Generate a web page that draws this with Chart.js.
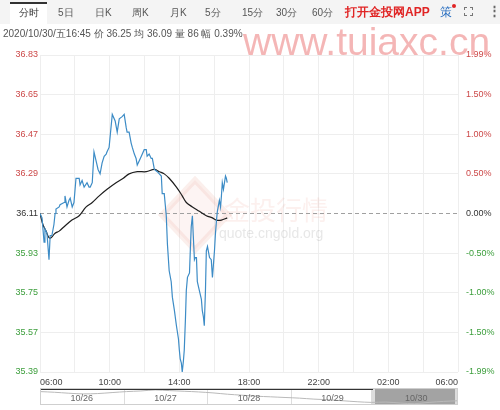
<!DOCTYPE html>
<html>
<head>
<meta charset="utf-8">
<script src="https://cdn.jsdelivr.net/npm/chart.js@4.4.0/dist/chart.umd.min.js"></script>
<style>
  body { margin:0; width:500px; height:410px; overflow:hidden; background:#fff; font-family:"Liberation Sans", Arial, sans-serif; }
  .abs { position:absolute; white-space:nowrap; }
  #tabs { position:absolute; left:0; top:0; width:500px; height:24px; background:#f4f4f4; z-index:2; }
  #tabs .t { position:absolute; top:6px; font-size:10px; color:#555; }
  #sel { position:absolute; left:10px; top:2px; width:37px; height:22px; background:#fff; border-top:2px solid #333; box-sizing:border-box; }
  #info { left:3px; top:27px; font-size:10px; color:#555; z-index:2; }
  #wm { left:243px; top:20px; font-size:39px; color:#f3aaaa; opacity:0.85; z-index:5; }
  #main { position:absolute; left:0; top:0; z-index:1; }
  #nav { position:absolute; left:40px; top:388px; z-index:1; }
</style>
</head>
<body>
<div id="tabs">
  <div id="sel"></div>
  <span class="t" style="left:19px;color:#333">分时</span>
  <span class="t" style="left:58px">5日</span>
  <span class="t" style="left:95px">日K</span>
  <span class="t" style="left:132px">周K</span>
  <span class="t" style="left:170px">月K</span>
  <span class="t" style="left:205px">5分</span>
  <span class="t" style="left:242px">15分</span>
  <span class="t" style="left:276px">30分</span>
  <span class="t" style="left:312px">60分</span>
  <span class="t" style="left:345px;top:4px;font-size:12px;font-weight:bold;color:#e02424">打开金投网APP</span>
  <span class="t" style="left:440px;top:4px;font-size:12px;color:#2a6fc0">策</span>
  <span class="abs" style="left:452px;top:4px;width:4px;height:4px;border-radius:2px;background:#e02424"></span>
  <span class="abs" style="left:464px;top:7px;width:9px;height:9px;border:1.5px dashed #777;box-sizing:border-box"></span>
  <span class="t" style="left:488px;top:3px;font-size:13px;color:#666;font-weight:bold">⋮</span>
</div>
<div id="info" class="abs">2020/10/30/五16:45 价 36.25 均 36.09 量 86 幅 0.39%</div>
<div id="wm" class="abs">www.tuiaxc.cn</div>
<canvas id="main" width="500" height="410"></canvas>
<canvas id="nav" width="418" height="17"></canvas>
<script>
// axis labels
var timeLabels = ['06:00', '10:00', '14:00', '18:00', '22:00', '02:00', '06:00'];
var priceTicks = [36.83, 36.65, 36.47, 36.29, 36.11, 35.93, 35.75, 35.57, 35.39];
var pctTicks = ['1.99%', '1.50%', '1.00%', '0.50%', '0.00%', '-0.50%', '-1.00%', '-1.50%', '-1.99%'];
var prevClose = 36.11;

// price line (minutes after 06:00)
var priceMinutes = [0, 7, 14, 17, 24, 31, 35, 41, 48, 52, 55, 66, 69, 83, 86, 93, 100, 104, 111, 117,
  124, 135, 138, 145, 152, 162, 169, 173, 180, 186, 193, 200, 207, 214, 221, 228, 231, 238, 249, 259,
  266, 273, 283, 290, 297, 300, 307, 314, 318, 325, 331, 335, 342, 349, 359, 366, 369, 376, 383, 387,
  394, 404, 418, 421, 428, 435, 439, 445, 452, 456, 463, 470, 477, 480, 483, 487, 490, 494, 497, 501,
  504, 508, 515, 518, 521, 525, 528, 532, 535, 539, 542, 549, 556, 559, 563, 566, 570, 573, 577, 584,
  590, 594, 597, 601, 604, 608, 611, 618, 622, 625, 628, 632, 639, 642, 645];
var priceValues = [36.11, 36.09, 35.98, 36.04, 36.02, 35.90, 36.01, 36.01, 36.06, 36.11, 36.13, 36.14, 36.15, 36.16, 36.19, 36.14, 36.17, 36.18, 36.14, 36.16,
  36.27, 36.27, 36.24, 36.26, 36.23, 36.25, 36.23, 36.23, 36.25, 36.39, 36.35, 36.31, 36.29, 36.34, 36.37, 36.38, 36.39, 36.41, 36.56, 36.53,
  36.48, 36.54, 36.55, 36.56, 36.50, 36.48, 36.48, 36.43, 36.41, 36.38, 36.36, 36.33, 36.35, 36.37, 36.40, 36.40, 36.37, 36.38, 36.36, 36.36,
  36.31, 36.30, 36.28, 36.20, 36.20, 36.10, 35.97, 35.85, 35.80, 35.73, 35.67, 35.60, 35.54, 35.49, 35.45, 35.43, 35.39, 35.44, 35.49, 35.63,
  35.76, 35.82, 35.84, 35.95, 36.05, 36.10, 36.01, 35.90, 35.91, 35.91, 35.80, 35.76, 35.72, 35.67, 35.64, 35.60, 35.76, 35.94, 35.96, 35.91,
  35.90, 35.82, 35.87, 35.94, 36.01, 36.08, 36.12, 36.17, 36.14, 36.19, 36.25, 36.22, 36.28, 36.27, 36.25];

// average price line
var avgMinutes = [0, 10, 21, 31, 38, 52, 66, 83, 110, 135, 159, 180, 204, 231, 262, 287, 307, 335, 366, 394,
  411, 428, 445, 470, 490, 504, 525, 549, 573, 594, 608, 625, 645];
var avgValues = [36.11, 36.06, 36.03, 36.00, 36.00, 36.02, 36.03, 36.05, 36.08, 36.10, 36.14, 36.16, 36.19, 36.22, 36.25, 36.27, 36.29, 36.30, 36.30, 36.31,
  36.30, 36.29, 36.27, 36.23, 36.19, 36.16, 36.14, 36.12, 36.10, 36.09, 36.08, 36.08, 36.09];

// navigator
var navDays = ['10/26', '10/27', '10/28', '10/29', '10/30'];
var navValues = [39.1, 38.9, 38.6, 38.4, 38.5, 38.8, 39.1, 39.3, 39.6, 39.4, 39.2, 39.0,
  38.7, 38.3, 38.0, 37.7, 37.5, 37.3, 37.1, 36.8, 36.6, 36.3, 36.0, 35.8, 35.9, 35.6, 35.4, 35.8, 36.1, 36.3];

var red = '#cc4848', green = '#3c9e3c';

var logoPlugin = {
  id: 'logo',
  beforeDatasetsDraw: function(chart) {
    var c = chart.ctx;
    c.save();
    c.fillStyle = 'rgba(225,120,100,0.08)';
    c.strokeStyle = 'rgba(225,120,100,0.12)';
    c.lineWidth = 6;
    c.beginPath();
    c.moveTo(195, 180); c.lineTo(228, 215); c.lineTo(195, 250); c.lineTo(162, 215); c.closePath();
    c.fill(); c.stroke();
    c.fillStyle = 'rgba(225,120,100,0.11)';
    c.font = '26px "Noto Sans CJK SC"';
    c.fillText('金投行情', 224, 220);
    c.fillStyle = 'rgba(170,170,170,0.28)';
    c.font = '14px "Liberation Sans"';
    c.fillText('quote.cngold.org', 219, 238);
    c.restore();
  }
};

new Chart(document.getElementById('main'), {
  type: 'line',
  data: {
    datasets: [{
      data: priceMinutes.map(function(m, i) { return {x: m, y: priceValues[i]}; }),
      borderColor: '#3d8cc6',
      borderWidth: 1.2,
      pointRadius: 0
    }, {
      data: avgMinutes.map(function(m, i) { return {x: m, y: avgValues[i]}; }),
      borderColor: '#1e1e1e',
      borderWidth: 1.2,
      pointRadius: 0,
      tension: 0.4
    }, {
      data: [{x: 0, y: prevClose}, {x: 1440, y: prevClose}],
      borderColor: '#a0a0a0',
      borderWidth: 1,
      borderDash: [4, 3],
      pointRadius: 0
    }]
  },
  options: {
    responsive: false,
    animation: false,
    events: [],
    layout: {padding: {top: 55, bottom: 22, left: 0, right: 0}},
    plugins: {legend: {display: false}, tooltip: {enabled: false}},
    scales: {
      x: {
        type: 'linear', min: 0, max: 1440,
        afterBuildTicks: function(s) {
          var t = [];
          for (var m = 0; m <= 1440; m += 120) t.push({value: m});
          s.ticks = t;
        },
        afterFit: function(s) { s.height = 16; },
        ticks: {
          autoSkip: false, maxRotation: 0, align: 'inner', padding: 5,
          color: '#444', font: {size: 9, family: 'Liberation Sans'},
          callback: function(v) { return v % 240 === 0 ? timeLabels[v / 240] : ''; }
        },
        grid: {color: '#eeeeee', drawTicks: false},
        border: {display: false}
      },
      y: {
        position: 'left', min: 35.39, max: 36.83,
        afterBuildTicks: function(s) { s.ticks = priceTicks.map(function(v) { return {value: v}; }); },
        afterFit: function(s) { s.width = 40; },
        ticks: {
          padding: 2, font: {size: 9, family: 'Liberation Sans'},
          color: function(c) { return c.tick.value > prevClose ? red : (c.tick.value < prevClose ? green : '#333'); },
          callback: function(v) { return v.toFixed(2); }
        },
        grid: {
          drawTicks: false,
          color: function(c) { return c.tick && c.tick.value === prevClose ? 'rgba(0,0,0,0)' : '#eeeeee'; }
        },
        border: {display: false}
      },
      y2: {
        position: 'right', min: 35.39, max: 36.83,
        afterBuildTicks: function(s) { s.ticks = priceTicks.map(function(v) { return {value: v}; }); },
        afterFit: function(s) { s.width = 42; },
        ticks: {
          padding: 0, font: {size: 9, family: 'Liberation Sans'},
          color: function(c) { return c.tick.value > prevClose ? red : (c.tick.value < prevClose ? green : '#333'); },
          callback: function(v, i) { return pctTicks[i]; }
        },
        grid: {display: false},
        border: {display: false}
      }
    }
  },
  plugins: [logoPlugin]
});

var navPlugin = {
  id: 'navDeco',
  beforeDatasetsDraw: function(chart) {
    var c = chart.ctx, w = chart.width, h = chart.height;
    c.save();
    // selected window
    c.fillStyle = '#a3a3a3';
    c.fillRect(335, 0, 80, h);
    c.fillStyle = '#dcdcdc';
    c.fillRect(331, 0, 4, h);
    c.fillRect(415, 0, 4, h);
    // day separators
    c.strokeStyle = '#dddddd';
    c.lineWidth = 1;
    for (var d = 1; d < navDays.length; d++) {
      var x = Math.round(d * w / navDays.length) + 0.5;
      c.beginPath(); c.moveTo(x, 0); c.lineTo(x, h); c.stroke();
    }
    c.restore();
  },
  afterDatasetsDraw: function(chart) {
    var c = chart.ctx, w = chart.width;
    c.save();
    c.font = '9px "Liberation Sans"';
    c.fillStyle = '#666';
    c.textAlign = 'center';
    c.textBaseline = 'middle';
    for (var d = 0; d < navDays.length; d++) {
      c.fillText(navDays[d], (d + 0.5) * w / navDays.length, 11);
    }
    // top border and frame
    c.fillStyle = '#333';
    c.fillRect(0, 0, 333, 2);
    c.strokeStyle = '#cfcfcf';
    c.strokeRect(0.5, 0.5, w - 1, chart.height - 1);
    c.restore();
  }
};

new Chart(document.getElementById('nav'), {
  type: 'line',
  data: {
    labels: navValues.map(function(v, i) { return i; }),
    datasets: [{
      data: navValues,
      borderColor: '#b9b9b9',
      borderWidth: 1,
      pointRadius: 0,
      tension: 0.3
    }]
  },
  options: {
    responsive: false,
    animation: false,
    events: [],
    layout: {padding: 0},
    plugins: {legend: {display: false}, tooltip: {enabled: false}},
    scales: {
      x: {display: false},
      y: {display: false, min: 35.0, max: 40.2}
    }
  },
  plugins: [navPlugin]
});
</script>
</body>
</html>
